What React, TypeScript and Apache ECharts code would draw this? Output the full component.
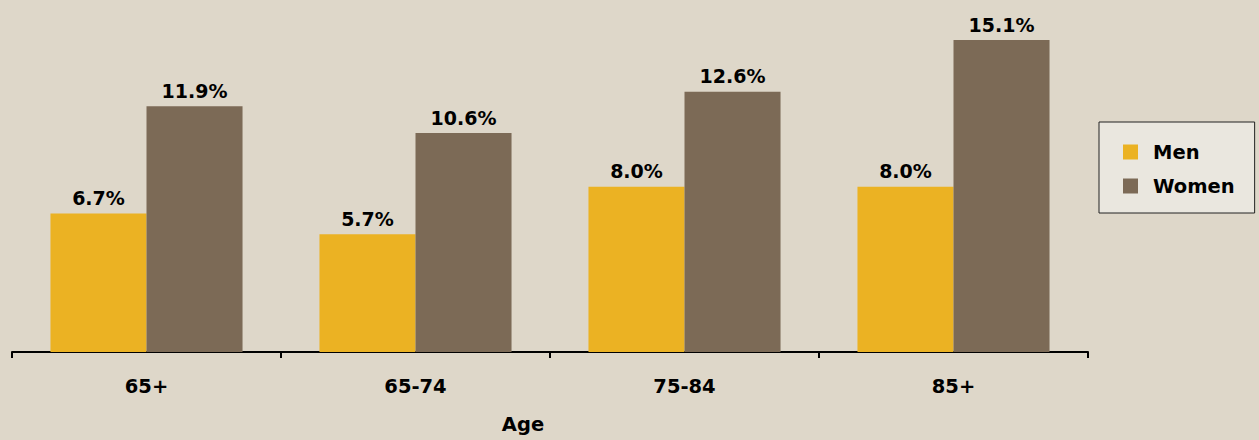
import React, { useEffect, useRef } from "react";
import * as echarts from "echarts";

const categories = ["65+", "65-74", "75-84", "85+"];
const menValues = [6.7, 5.7, 8.0, 8.0];
const womenValues = [11.9, 10.6, 12.6, 15.1];
const axisTitle = "Age";
const seriesNames = ["Men", "Women"];

const FONT = "DejaVu Sans";

export default function App() {
  const ref = useRef<HTMLDivElement>(null);
  useEffect(() => {
    if (!ref.current) return;
    const chart = echarts.init(ref.current, undefined, { renderer: "svg" });
    const label = {
      show: true,
      position: "top" as const,
      distance: 6,
      formatter: (p: any) => p.value.toFixed(1) + "%",
      fontFamily: FONT,
      fontWeight: "bold" as const,
      fontSize: 19,
      color: "#000",
    };
    chart.setOption({
      animation: false,
      backgroundColor: "#DED7C9",
      grid: { left: 12, right: 171, top: 21.5, bottom: 88, containLabel: false },
      legend: {
        orient: "vertical",
        left: 1099,
        top: 122,
        backgroundColor: "#EAE7DF",
        borderColor: "#222",
        borderWidth: 1,
        padding: [20, 20, 17, 24],
        itemWidth: 15,
        itemHeight: 15,
        itemGap: 14,
        icon: "rect",
        textStyle: {
          fontFamily: FONT,
          fontWeight: "bold",
          fontSize: 19.5,
          color: "#000",
          padding: [0, 0, 0, 10],
        },
        data: seriesNames,
      },
      xAxis: {
        type: "category",
        data: categories,
        name: axisTitle,
        nameLocation: "middle",
        nameGap: 62,
        nameTextStyle: {
          fontFamily: FONT,
          fontWeight: "bold",
          fontSize: 19.5,
          color: "#000",
          padding: [0, 54, 0, 0],
        },
        axisLine: { lineStyle: { color: "#000", width: 2 } },
        axisTick: { show: true, length: 6, lineStyle: { color: "#000", width: 2 } },
        axisLabel: {
          margin: 24,
          fontFamily: FONT,
          fontWeight: "bold",
          fontSize: 19.5,
          color: "#000",
        },
      },
      yAxis: {
        type: "value",
        min: 0,
        max: 16,
        show: false,
        splitLine: { show: false },
      },
      series: [
        {
          name: seriesNames[0],
          type: "bar",
          data: menValues,
          barGap: "0%",
          barCategoryGap: "28.6%",
          itemStyle: { color: "#EBB223" },
          label,
        },
        {
          name: seriesNames[1],
          type: "bar",
          data: womenValues,
          itemStyle: { color: "#7C6A56" },
          label,
        },
      ],
    });
    return () => chart.dispose();
  }, []);
  return <div ref={ref} style={{ width: 1259, height: 440, position: "absolute", left: 0, top: 0 }} />;
}
